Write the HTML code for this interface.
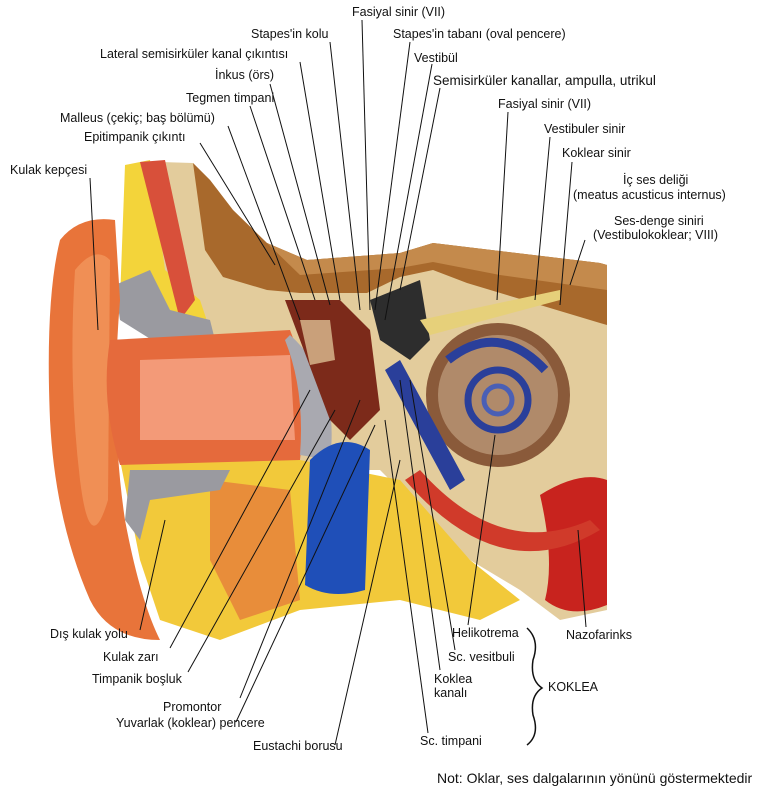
<!DOCTYPE html>
<html><head><meta charset="utf-8"><style>
body{margin:0;background:#fff;}
#w{position:relative;width:763px;height:803px;overflow:hidden;font-family:"Liberation Sans",Arial,sans-serif;font-size:12.5px;color:#111;}
.t{position:absolute;white-space:nowrap;line-height:14px;}
svg{position:absolute;left:0;top:0;}
</style></head><body><div id="w">
<svg width="763" height="803" viewBox="0 0 763 803">
<!-- bone background -->
<path d="M160 162 L193 163 L210 180 L233 210 L267 243 L307 260 L400 253 L433 243 L600 263 L607 265 L607 610 L560 620 L520 590 L470 560 L430 520 L380 470 L300 470 L200 470 L150 430 Z" fill="#e3cc9c"/>
<path d="M193 163 L210 180 L233 210 L267 243 L307 260 L400 253 L433 243 L600 263 L607 265 L607 325 L600 323 L467 283 L433 270 L400 277 L367 293 L300 293 L267 290 L223 277 L205 250 Z" fill="#a8692c"/>
<path d="M267 243 L307 260 L400 253 L433 243 L600 263 L607 265 L607 290 L500 275 L433 262 L400 268 L300 275 Z" fill="#c48a4c"/>
<!-- yellow fat -->
<path d="M125 165 L150 160 L165 270 L200 300 L210 330 L150 340 L120 300 Z" fill="#f3d43a"/>
<path d="M140 162 L165 160 L195 300 L180 320 Z" fill="#d8503a"/>
<path d="M120 460 L300 460 L400 480 L470 560 L520 600 L480 620 L400 600 L300 610 L220 640 L160 620 L140 560 Z" fill="#f2c93a"/>
<path d="M210 480 L290 490 L300 600 L240 620 L210 560 Z" fill="#e88d3a"/>
<!-- grey cartilage -->
<path d="M115 285 L150 270 L170 310 L210 320 L215 340 L160 345 L120 320 Z" fill="#9a9aa0"/>
<path d="M130 470 L230 470 L220 490 L150 500 L140 540 L125 520 Z" fill="#9a9aa0"/>
<!-- auricle -->
<path d="M60 240 Q80 215 115 220 L120 300 Q110 420 125 520 Q140 600 160 640 Q110 640 90 600 Q55 520 50 420 Q45 300 60 240 Z" fill="#e8743a"/>
<path d="M75 270 Q95 245 110 260 L108 500 Q90 560 80 480 Q68 380 75 270 Z" fill="#f08f55"/>
<!-- ear canal -->
<path d="M110 340 L290 330 Q310 380 300 460 L120 465 Q100 400 110 340 Z" fill="#e56a3c"/>
<path d="M140 360 L290 355 L295 440 L140 440 Z" fill="#f39a78"/>
<!-- eardrum & middle ear -->
<path d="M290 335 Q340 380 330 460 L300 455 Q305 390 285 340 Z" fill="#a9a9b0"/>
<path d="M285 300 L340 300 L370 330 L380 410 L350 440 L330 420 Z" fill="#7c2a1a"/>
<path d="M300 320 L330 320 L335 360 L310 365 Z" fill="#c9a07a"/>
<!-- vestibule dark -->
<path d="M370 300 L420 280 L430 340 L410 360 L380 340 Z" fill="#2d2d2d"/>
<!-- cochlea -->
<circle cx="498" cy="395" r="72" fill="#8a5a3a"/>
<circle cx="498" cy="395" r="60" fill="#b08a6a"/>
<path d="M448 360 Q498 320 545 370" stroke="#2a3f9a" stroke-width="9" fill="none"/>
<circle cx="498" cy="400" r="30" fill="none" stroke="#2a3f9a" stroke-width="7"/>
<circle cx="498" cy="400" r="14" fill="none" stroke="#4a5fb5" stroke-width="5"/>
<path d="M385 370 L400 360 L465 480 L450 490 Z" fill="#2a3f9a"/>
<!-- nerves -->
<path d="M420 320 L560 290 L560 300 L430 335 Z" fill="#e6d07a"/>
<!-- blue tube -->
<path d="M310 460 Q340 430 370 450 L365 590 Q330 600 305 585 Z" fill="#1f4fb8"/>
<!-- nasopharynx -->
<path d="M540 495 Q580 470 607 480 L607 605 Q570 620 545 600 Q555 560 540 495 Z" fill="#c8231e"/>
<path d="M420 470 Q500 560 590 520 L600 530 Q500 590 405 480 Z" fill="#d03a2a"/>
<!-- leader lines -->
<g stroke="#111" stroke-width="1" fill="none">
<line x1="362" y1="20" x2="370" y2="310"/>
<line x1="330" y1="42" x2="360" y2="310"/>
<line x1="410" y1="42" x2="375" y2="310"/>
<line x1="300" y1="62" x2="340" y2="300"/>
<line x1="432" y1="64" x2="385" y2="320"/>
<line x1="270" y1="84" x2="330" y2="305"/>
<line x1="440" y1="88" x2="400" y2="290"/>
<line x1="250" y1="106" x2="315" y2="300"/>
<line x1="508" y1="112" x2="497" y2="300"/>
<line x1="228" y1="126" x2="300" y2="320"/>
<line x1="550" y1="137" x2="535" y2="300"/>
<line x1="200" y1="143" x2="275" y2="265"/>
<line x1="572" y1="162" x2="560" y2="305"/>
<line x1="90" y1="178" x2="98" y2="330"/>
<line x1="585" y1="240" x2="570" y2="285"/>
<line x1="140" y1="630" x2="165" y2="520"/>
<line x1="170" y1="648" x2="310" y2="390"/>
<line x1="188" y1="672" x2="335" y2="410"/>
<line x1="240" y1="698" x2="360" y2="400"/>
<line x1="236" y1="722" x2="375" y2="425"/>
<line x1="335" y1="745" x2="400" y2="460"/>
<line x1="468" y1="625" x2="495" y2="435"/>
<line x1="586" y1="627" x2="578" y2="530"/>
<line x1="455" y1="650" x2="410" y2="380"/>
<line x1="440" y1="670" x2="400" y2="380"/>
<line x1="428" y1="733" x2="385" y2="420"/>
<path d="M527 628 Q540 640 533 660 Q530 680 542 688 Q530 696 533 715 Q540 735 527 745" stroke-width="1.5"/>
</g>
</svg>
<div class="t" style="left:352px;top:5px">Fasiyal sinir (VII)</div>
<div class="t" style="left:251px;top:27px">Stapes'in kolu</div>
<div class="t" style="left:393px;top:27px">Stapes'in tabanı (oval pencere)</div>
<div class="t" style="left:100px;top:47px">Lateral semisirküler kanal çıkıntısı</div>
<div class="t" style="left:414px;top:51px">Vestibül</div>
<div class="t" style="left:215px;top:68px">İnkus (örs)</div>
<div class="t" style="left:433px;top:74px;font-size:13.5px">Semisirküler kanallar, ampulla, utrikul</div>
<div class="t" style="left:186px;top:91px">Tegmen timpani</div>
<div class="t" style="left:498px;top:97px">Fasiyal sinir (VII)</div>
<div class="t" style="left:60px;top:111px">Malleus (çekiç; baş bölümü)</div>
<div class="t" style="left:544px;top:122px">Vestibuler sinir</div>
<div class="t" style="left:84px;top:130px">Epitimpanik çıkıntı</div>
<div class="t" style="left:562px;top:146px">Koklear sinir</div>
<div class="t" style="left:10px;top:163px">Kulak kepçesi</div>
<div class="t" style="left:623px;top:173px">İç ses deliği</div>
<div class="t" style="left:573px;top:188px">(meatus acusticus internus)</div>
<div class="t" style="left:614px;top:214px">Ses-denge siniri</div>
<div class="t" style="left:593px;top:228px">(Vestibulokoklear; VIII)</div>
<div class="t" style="left:50px;top:627px">Dış kulak yolu</div>
<div class="t" style="left:103px;top:650px">Kulak zarı</div>
<div class="t" style="left:92px;top:672px">Timpanik boşluk</div>
<div class="t" style="left:163px;top:700px">Promontor</div>
<div class="t" style="left:116px;top:716px">Yuvarlak (koklear) pencere</div>
<div class="t" style="left:253px;top:739px">Eustachi borusu</div>
<div class="t" style="left:452px;top:626px">Helikotrema</div>
<div class="t" style="left:566px;top:628px">Nazofarinks</div>
<div class="t" style="left:448px;top:650px">Sc. vesitbuli</div>
<div class="t" style="left:434px;top:672px">Koklea</div>
<div class="t" style="left:434px;top:686px">kanalı</div>
<div class="t" style="left:548px;top:680px">KOKLEA</div>
<div class="t" style="left:420px;top:734px">Sc. timpani</div>
<div class="t" style="left:437px;top:771px;font-size:14px">Not: Oklar, ses dalgalarının yönünü göstermektedir</div>
</div></body></html>
